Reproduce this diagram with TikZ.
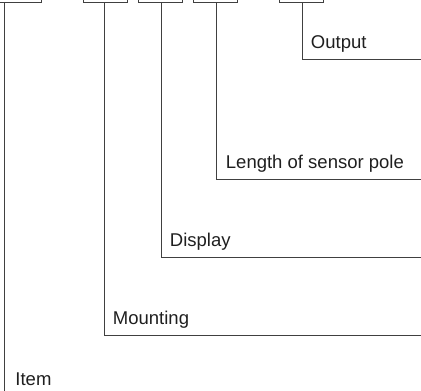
\documentclass[tikz,border=0pt]{standalone}
\usepackage{fontspec}
\setmainfont{Liberation Sans}
\usepackage{xcolor}
\usetikzlibrary{positioning}
\definecolor{linegray}{HTML}{404040}
\definecolor{textgray}{HTML}{1F1F1F}

\begin{document}
\begin{tikzpicture}[x=1pt, y=-1pt, line width=0.9pt,
    codebox/.style={draw=linegray, line width=0.9pt, minimum width=44pt, minimum height=24pt, inner sep=0pt, anchor=south},
    lbl/.style={font=\fontsize{18.5}{22}\selectfont, text=textgray, anchor=base west, inner sep=0pt}]
        \useasboundingbox (0,0) rectangle (421,391);
        % Code boxes
        \node (item) [codebox] at (19.5,3.3) {};
        \node (mounting) [codebox] at (105.5,3.3) {};
        \node (display) [codebox] at (160,3.3) {};
        \node (pole) [codebox] at (215,3.3) {};
        \node (output) [codebox] at (301,3.3) {};

        % Ends of the lines
        \coordinate (itemend) at (4,391);
        \coordinate (mountend) at (421,335);
        \coordinate (dispend) at (421,257);
        \coordinate (poleend) at (421,179);
        \coordinate (outend) at (421,59);

        % Lines
        \draw[linegray] (item.south -| itemend) -- (itemend);
        \draw[linegray] (mounting.south -| 104,0) |- (mountend);
        \draw[linegray] (display.south -| 161,0) |- (dispend);
        \draw[linegray] (pole.south -| 216,0) |- (poleend);
        \draw[linegray] (output.south -| 302,0) |- (outend);

        % Labels
        \node (itemlbl) [lbl] at (15,385) {Item};
        \node (mountlbl) [lbl] at (112.5,324) {Mounting};
        \node (displbl) [lbl] at (169.5,246) {Display};
        \node (polelbl) [lbl] at (225.5,168) {Length of sensor pole};
        \node (outlbl) [lbl] at (310.5,48) {Output};
    \end{tikzpicture}
\end{document}
